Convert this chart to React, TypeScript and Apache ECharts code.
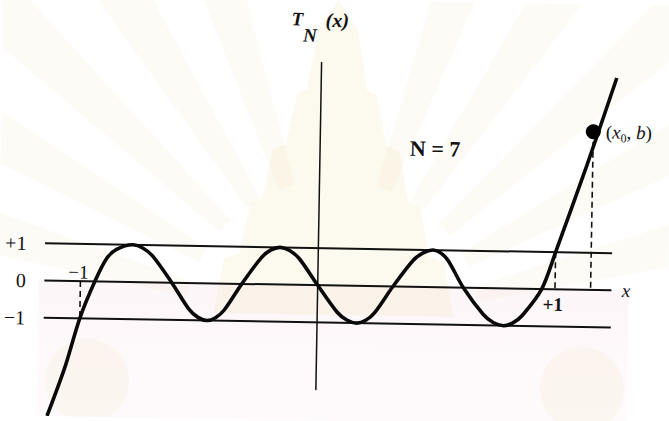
import React, { useEffect, useRef } from "react";
import * as echarts from "echarts";

const serif = '"Liberation Serif", "DejaVu Serif", "Times New Roman", serif';
const ink = "#111111";

// Equiripple band: the three horizontal reference levels and their labels
const bandLevels = [1, 0, -1];
const bandLabels = ["+1", "0", "\u22121"];
const bandStart = -1.152;
const bandEnd = 1.238;

// Vertical T_N(x) axis, lower and upper end
const axisBottom = -2.82;
const axisTop = 6.0;

// Sketched T_7(x) curve, sampled along the drawn line
const curveX = [
  -1.131, -1.059, -1.0, -0.939, -0.89, -0.85, -0.781, -0.74, -0.698, -0.615,
  -0.54, -0.502, -0.464, -0.428, -0.392, -0.32, -0.24, -0.201, -0.161, -0.121,
  -0.08, 0, 0.083, 0.125, 0.167, 0.205, 0.242, 0.317, 0.4, 0.442, 0.484, 0.517,
  0.549, 0.614, 0.7, 0.742, 0.785, 0.825, 0.865, 0.944, 1.0, 1.125, 1.245,
];
const curveY = [
  -3.64, -2.32, -1.0, 0, 0.63, 0.87, 1, 0.92, 0.71, 0,
  -0.71, -0.92, -1, -0.92, -0.71, 0, 0.71, 0.92, 1, 0.92,
  0.71, 0, -0.71, -0.92, -1, -0.92, -0.71, 0, 0.71, 0.92, 1, 0.92,
  0.71, 0, -0.71, -0.92, -1, -0.92, -0.71, 0, 1, 3.34, 5.71,
];

// Marked point (x0, b) on the rising branch
const x0 = 1.15;
const b = 4.255;

// Dashed drop lines: x position, upper end, lower end
const guideX = [-1, 1, x0];
const guideTop = [0, 1, b];
const guideBottom = [-1, 0, 0];

// Visible window of the plane
const xMin = -1.3443;
const xMax = 1.4749;
const yMin = -3.642;
const yMax = 7.675;

const W = 669;
const H = 421;

// Faint emblem printed behind the figure
function watermark(): any[] {
  const els: any[] = [];
  const cx = 335;
  const cy = 330;
  const rayAngles = [-165, -151, -137, -123, -109, -71, -57, -43, -29, -15];
  rayAngles.forEach((deg) => {
    const a = (deg * Math.PI) / 180;
    const ux = Math.cos(a);
    const uy = Math.sin(a);
    const nx = -uy;
    const ny = ux;
    const r0 = 150;
    const r1 = 560;
    const w0 = 8;
    const w1 = 34;
    els.push({
      type: "polygon",
      silent: true,
      z: -10,
      shape: {
        points: [
          [cx + ux * r0 + nx * w0, cy + uy * r0 + ny * w0],
          [cx + ux * r1 + nx * w1, cy + uy * r1 + ny * w1],
          [cx + ux * r1 - nx * w1, cy + uy * r1 - ny * w1],
          [cx + ux * r0 - nx * w0, cy + uy * r0 - ny * w0],
        ],
      },
      style: { fill: "rgba(240, 226, 176, 0.13)" },
    });
  });
  els.push({
    type: "rect",
    silent: true,
    z: -10,
    shape: { x: 40, y: 285, width: 590, height: 136 },
    style: {
      fill: new echarts.graphic.LinearGradient(0, 0, 0, 1, [
        { offset: 0, color: "rgba(246, 206, 216, 0.18)" },
        { offset: 1, color: "rgba(246, 214, 222, 0.12)" },
      ]),
    },
  });
  els.push({
    type: "polygon",
    silent: true,
    z: -9,
    shape: {
      points: [
        [215, 315], [225, 260], [240, 255], [250, 205], [262, 200], [272, 150],
        [285, 145], [295, 95], [305, 90], [315, 30], [335, 0], [355, 30],
        [365, 90], [375, 95], [385, 145], [398, 150], [408, 200], [420, 205],
        [430, 255], [445, 260], [455, 315],
      ],
    },
    style: { fill: "rgba(236, 218, 158, 0.16)" },
  });
  [90, 585].forEach((ex) => {
    els.push({
      type: "ellipse",
      silent: true,
      z: -9,
      shape: { cx: ex, cy: 385, rx: 42, ry: 42 },
      style: { fill: "rgba(236, 220, 168, 0.12)" },
    });
  });
  return els;
}

export default function App() {
  const ref = useRef<HTMLDivElement>(null);

  useEffect(() => {
    if (!ref.current) return;
    const chart = echarts.init(ref.current, null, { renderer: "svg", width: W, height: H });

    const bandSeries = bandLevels.map((lvl) => ({
      type: "line",
      data: [
        [bandStart, lvl],
        [bandEnd, lvl],
      ],
      symbol: "none",
      silent: true,
      lineStyle: { color: ink, width: 2 },
      z: 3,
    }));

    const guideSeries = guideX.map((gx, i) => ({
      type: "line",
      data: [
        [gx, guideTop[i]],
        [gx, guideBottom[i]],
      ],
      symbol: "none",
      silent: true,
      lineStyle: { color: ink, width: 1.6, type: [6, 4] },
      z: 3,
    }));

    const italicRich = {
      i: { fontFamily: serif, fontStyle: "italic", fontSize: 19, color: ink, lineHeight: 24 },
      s: { fontFamily: serif, fontSize: 12, color: ink, lineHeight: 24, verticalAlign: "bottom" },
      r: { fontFamily: serif, fontSize: 19, color: ink, lineHeight: 24 },
    };

    const titleText = (text: string, x: number, y: number, size: number) => ({
      type: "text",
      x,
      y,
      silent: true,
      style: {
        text,
        fontFamily: serif,
        fontStyle: "italic",
        fontWeight: "bold",
        fontSize: size,
        fill: ink,
        align: "center",
        verticalAlign: "middle",
      },
    });

    chart.setOption({
      animation: false,
      backgroundColor: "#ffffff",
      grid: { left: 0, right: 0, top: 0, bottom: 0 },
      xAxis: { type: "value", min: xMin, max: xMax, show: false },
      yAxis: { type: "value", min: yMin, max: yMax, show: false },
      graphic: [
        ...watermark(),
        titleText("T", 294, 19.5, 19),
        titleText("N", 307, 35.5, 19),
        titleText("(x)", 334, 20, 20),
        {
          type: "text",
          x: 434,
          y: 147,
          silent: true,
          style: {
            text: "N = 7",
            fontFamily: serif,
            fontWeight: "bold",
            fontSize: 22,
            fill: ink,
            align: "center",
            verticalAlign: "middle",
          },
        },
      ],
      series: [
        ...bandSeries,
        {
          type: "line",
          data: [
            [0, axisBottom],
            [0, axisTop],
          ],
          symbol: "none",
          silent: true,
          lineStyle: { color: ink, width: 1.5 },
          z: 3,
        },
        ...guideSeries,
        {
          type: "line",
          data: curveX.map((x, i) => [x, curveY[i]]),
          smooth: 0.3,
          symbol: "none",
          clip: false,
          silent: true,
          lineStyle: { color: "#0a0a0a", width: 3.6 },
          z: 5,
        },
        {
          type: "scatter",
          symbolSize: 1,
          silent: true,
          itemStyle: { color: "rgba(0,0,0,0)", opacity: 1 },
          label: {
            show: true,
            position: "left",
            distance: 18,
            fontFamily: serif,
            fontSize: 20,
            color: ink,
            opacity: 1,
          },
          data: bandLevels.map((lvl, i) => ({
            value: [bandStart, lvl],
            label: { formatter: bandLabels[i] },
          })),
          z: 6,
        },
        {
          type: "scatter",
          symbolSize: 1,
          silent: true,
          itemStyle: { color: "rgba(0,0,0,0)", opacity: 1 },
          label: {
            show: true,
            fontFamily: serif,
            fontSize: 19,
            color: ink,
            opacity: 1,
            rich: italicRich,
          },
          data: [
            {
              value: [-1, 0],
              label: { formatter: "\u22121", position: "top", distance: 0, offset: [-2, 1] },
            },
            {
              value: [1, 0],
              label: {
                formatter: "+1",
                position: "bottom",
                distance: 5,
                offset: [-2, 0],
                fontSize: 19,
                fontWeight: "bold",
              },
            },
            {
              value: [bandEnd, 0],
              label: { formatter: "{i|x}", position: "right", distance: 10 },
            },
          ],
          z: 6,
        },
        {
          type: "scatter",
          symbol: "circle",
          symbolSize: 15,
          silent: true,
          itemStyle: { color: "#000000", opacity: 1 },
          label: {
            show: true,
            position: "right",
            distance: 5,
            opacity: 1,
            formatter: "{r|(}{i|x}{s|0}{r|, }{i|b}{r|)}",
            rich: italicRich,
          },
          data: [[x0, b]],
          z: 7,
        },
      ],
    });

    return () => {
      chart.dispose();
    };
  }, []);

  return (
    <div
      style={{
        position: "fixed",
        left: 0,
        top: 0,
        width: W,
        height: H,
        overflow: "hidden",
        background: "#ffffff",
      }}
    >
      <div
        ref={ref}
        style={{ width: W, height: H, transform: "rotate(1deg)", transformOrigin: "50% 50%" }}
      />
    </div>
  );
}
